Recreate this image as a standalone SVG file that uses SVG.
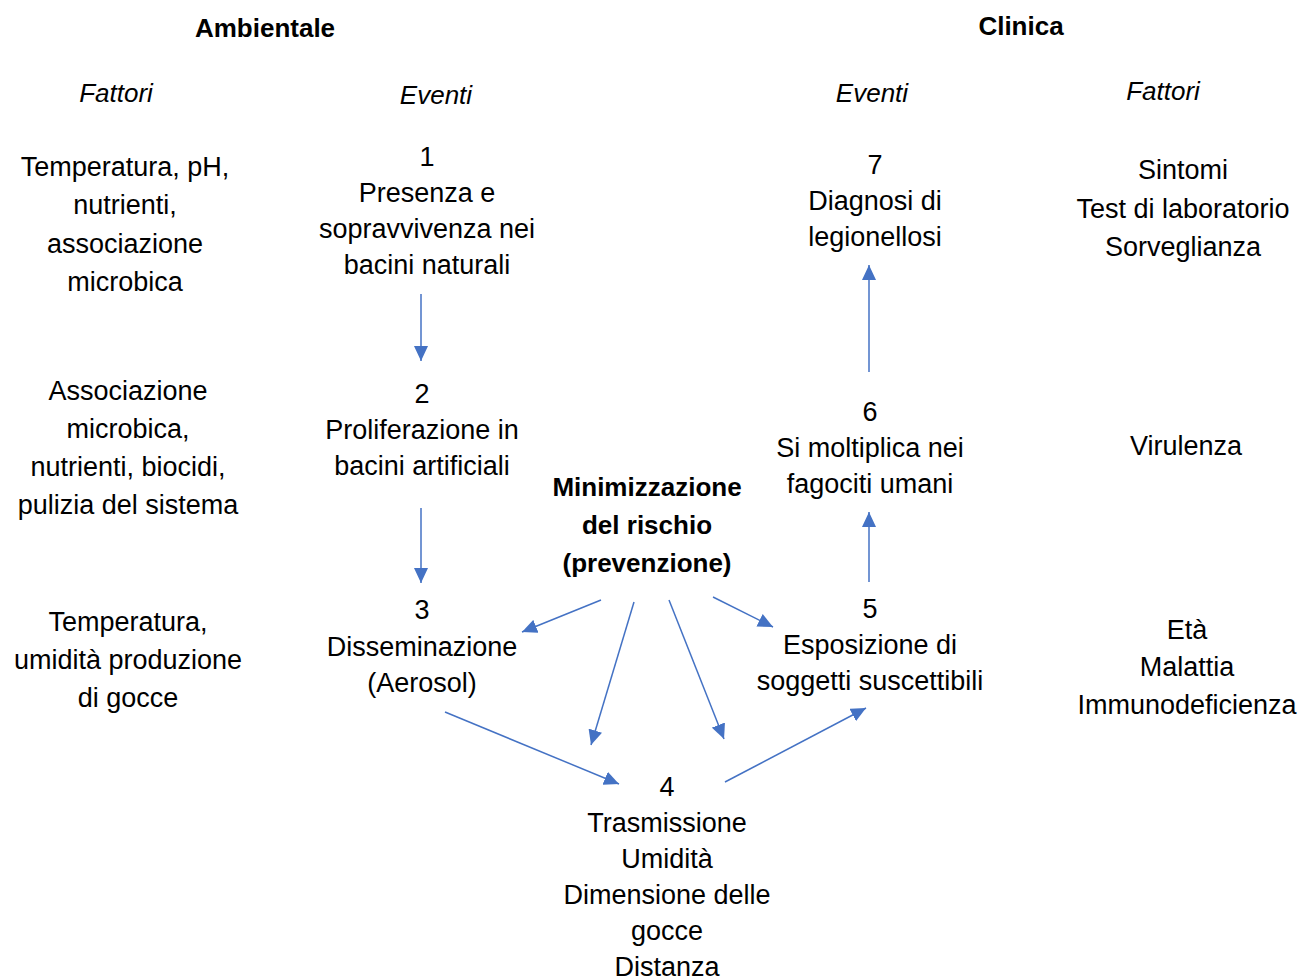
<svg xmlns="http://www.w3.org/2000/svg" width="1300" height="978" viewBox="0 0 1300 978">
<defs>
<style>
text{font-family:"Liberation Sans",Arial,sans-serif;font-size:27px;fill:#000;text-anchor:middle}
.h{font-weight:bold;font-size:26px}
.i{font-style:italic;font-size:26px}
.b{font-weight:bold;font-size:26px}
.c{stroke:#4472C4;stroke-width:1.5;fill:none;marker-end:url(#ah)}
</style>
<marker id="ah" viewBox="0 0 10 10" refX="10" refY="5" markerWidth="15" markerHeight="14" markerUnits="userSpaceOnUse" orient="auto" preserveAspectRatio="none">
<path d="M0,0 L10,5 L0,10 z" fill="#4472C4"/>
</marker>
</defs>
<rect width="1300" height="978" fill="#fff"/>
<g id="headers">
<text class="h" x="265" y="37">Ambientale</text>
<text class="h" x="1021" y="35">Clinica</text>
<text class="i" x="116" y="102">Fattori</text>
<text class="i" x="436" y="104">Eventi</text>
<text class="i" x="872" y="102">Eventi</text>
<text class="i" x="1163" y="100">Fattori</text>
</g>
<g id="fattori-amb-1"><text x="125" y="176">Temperatura, pH,</text><text x="125" y="214">nutrienti,</text><text x="125" y="253">associazione</text><text x="125" y="291">microbica</text></g>
<g id="fattori-amb-2"><text x="128" y="400">Associazione</text><text x="128" y="438">microbica,</text><text x="128" y="476">nutrienti, biocidi,</text><text x="128" y="514">pulizia del sistema</text></g>
<g id="fattori-amb-3"><text x="128" y="631">Temperatura,</text><text x="128" y="669">umidità produzione</text><text x="128" y="707">di gocce</text></g>
<g id="n1"><text x="427" y="166">1</text><text x="427" y="202">Presenza e</text><text x="427" y="238">sopravvivenza nei</text><text x="427" y="274">bacini naturali</text></g>
<g id="n2"><text x="422" y="403">2</text><text x="422" y="439">Proliferazione in</text><text x="422" y="475">bacini artificiali</text></g>
<g id="n3"><text x="422" y="619">3</text><text x="422" y="656">Disseminazione</text><text x="422" y="692">(Aerosol)</text></g>
<g id="n4"><text x="667" y="796">4</text><text x="667" y="832">Trasmissione</text><text x="667" y="868">Umidità</text><text x="667" y="904">Dimensione delle</text><text x="667" y="940">gocce</text><text x="667" y="976">Distanza</text></g>
<g id="n5"><text x="870" y="618">5</text><text x="870" y="654">Esposizione di</text><text x="870" y="690">soggetti suscettibili</text></g>
<g id="n6"><text x="870" y="421">6</text><text x="870" y="457">Si moltiplica nei</text><text x="870" y="493">fagociti umani</text></g>
<g id="n7"><text x="875" y="174">7</text><text x="875" y="210">Diagnosi di</text><text x="875" y="246">legionellosi</text></g>
<g id="prevenzione"><text class="b" x="647" y="496">Minimizzazione</text><text class="b" x="647" y="534">del rischio</text><text class="b" x="647" y="572">(prevenzione)</text></g>
<g id="fattori-cli-1"><text x="1183" y="179">Sintomi</text><text x="1183" y="218">Test di laboratorio</text><text x="1183" y="256">Sorveglianza</text></g>
<g id="fattori-cli-2"><text x="1186" y="455">Virulenza</text></g>
<g id="fattori-cli-3"><text x="1187" y="639">Età</text><text x="1187" y="676">Malattia</text><text x="1187" y="714">Immunodeficienza</text></g>
<g id="connectors">
<line class="c" x1="421" y1="294" x2="421" y2="361"/>
<line class="c" x1="421" y1="508" x2="421" y2="583"/>
<line class="c" x1="869" y1="372" x2="869" y2="265"/>
<line class="c" x1="869" y1="582" x2="869" y2="512"/>
<line class="c" x1="601" y1="600" x2="522" y2="632"/>
<line class="c" x1="634" y1="602" x2="591" y2="745"/>
<line class="c" x1="669" y1="600" x2="724" y2="739"/>
<line class="c" x1="713" y1="597" x2="773" y2="627"/>
<line class="c" x1="445" y1="712" x2="619" y2="784"/>
<line class="c" x1="725" y1="782" x2="866" y2="708"/>
</g>
</svg>
